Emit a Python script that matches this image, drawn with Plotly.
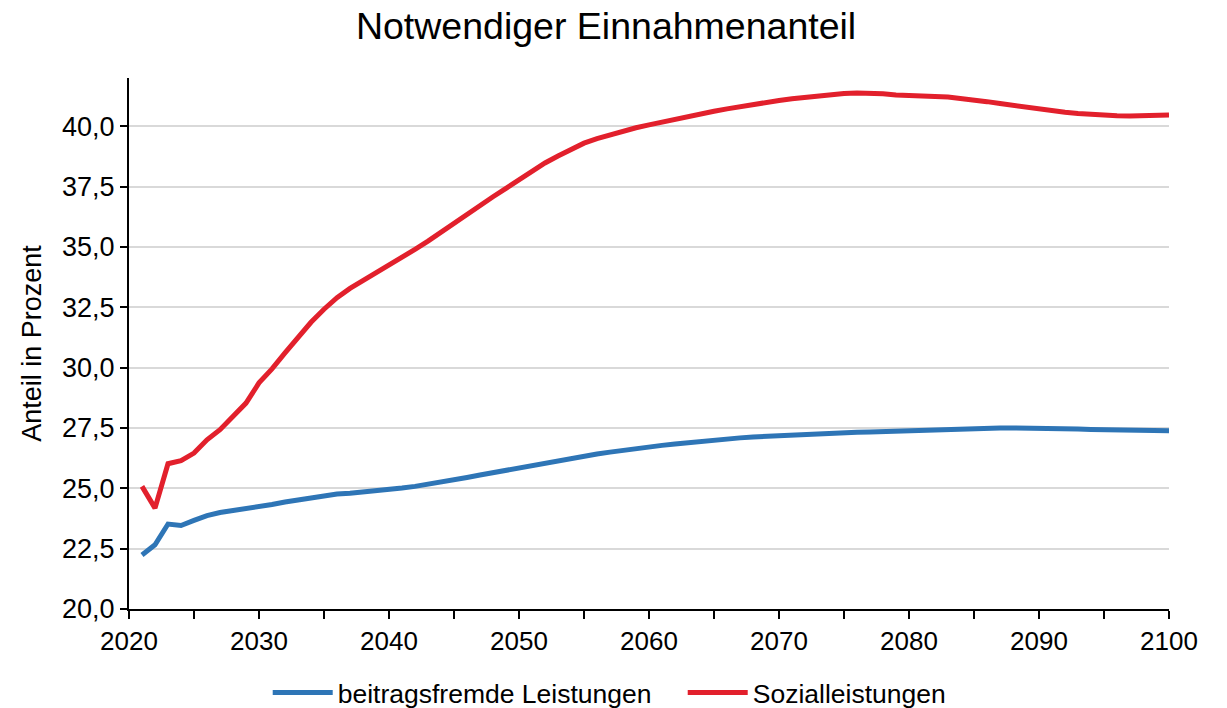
import plotly.graph_objects as go

years = list(range(2021, 2101))

beitragsfremde = [
    22.24, 22.66, 23.52, 23.46, 23.67, 23.87, 24.00, 24.07, 24.14, 24.25,
    24.33, 24.43, 24.52, 24.62, 24.69, 24.76, 24.80, 24.84, 24.88, 24.94,
    25.01, 25.08, 25.16, 25.25, 25.35, 25.45, 25.55, 25.65, 25.76, 25.86,
    25.96, 26.06, 26.15, 26.24, 26.33, 26.42, 26.50, 26.58, 26.65, 26.72,
    26.78, 26.84, 26.90, 26.95, 27.00, 27.05, 27.09, 27.13, 27.16, 27.19,
    27.22, 27.24, 27.26, 27.28, 27.30, 27.32, 27.33, 27.35, 27.36, 27.38,
    27.40, 27.43, 27.46, 27.48, 27.49, 27.50, 27.50, 27.50, 27.50, 27.49,
    27.48, 27.47, 27.46, 27.44, 27.43, 27.42, 27.41, 27.40, 27.39, 27.38,
]

sozial = [
    25.08, 24.18, 26.02, 26.15, 26.46, 27.01, 27.43, 27.95, 28.53, 29.37,
    29.95, 30.61, 31.27, 31.88, 32.42, 32.90, 33.28, 33.60, 33.91, 34.21,
    34.55, 34.90, 35.24, 35.62, 35.98, 36.35, 36.72, 37.08, 37.43, 37.80,
    38.17, 38.48, 38.77, 39.05, 39.30, 39.49, 39.65, 39.80, 39.94, 40.06,
    40.18, 40.29, 40.40, 40.51, 40.62, 40.72, 40.82, 40.91, 40.99, 41.07,
    41.14, 41.20, 41.26, 41.32, 41.36, 41.38, 41.38, 41.35, 41.30, 41.26,
    41.24, 41.23, 41.21, 41.16, 41.10, 41.02, 40.94, 40.86, 40.78, 40.70,
    40.63, 40.58, 40.53, 40.49, 40.46, 40.44, 40.43, 40.43, 40.44, 40.47,
]

names = ["beitragsfremde Leistungen", "Sozialleistungen"]
colors = ["#2E75B6", "#E2202C"]

FONT = "Liberation Sans, Arial, sans-serif"

fig = go.Figure()
for name, vals, col in zip(names, [beitragsfremde, sozial], colors):
    fig.add_trace(go.Scatter(x=years, y=vals, mode="lines", name=name,
                             line=dict(color=col, width=5)))

fig.update_layout(
    width=1219, height=700,
    paper_bgcolor="white", plot_bgcolor="white",
    separators=",.",
    font=dict(family=FONT, size=26, color="black"),
    title=dict(text="Notwendiger Einnahmenanteil", x=0.4906, xanchor="center",
               xref="container", yref="container",
               y=0.975, yanchor="middle",
               font=dict(family=FONT, size=37.5, color="black")),
    margin=dict(l=121, r=58, t=70, b=99, autoexpand=False),
    showlegend=True,
    legend=dict(orientation="h", xref="container", yref="paper",
                x=0.5535, xanchor="center", y=-0.158, yanchor="middle",
                font=dict(family=FONT, size=26.5, color="black"),
                itemwidth=60, entrywidth=340, tracegroupgap=0),
    xaxis=dict(range=[2020, 2100], tick0=2020, dtick=10, automargin=False,
               showline=True, linecolor="black", linewidth=2,
               ticks="outside", ticklen=8, tickwidth=2, tickcolor="black",
               showgrid=False, zeroline=False,
               minor=dict(dtick=5, ticks="outside", ticklen=8, tickwidth=2,
                          tickcolor="black", showgrid=False),
               tickfont=dict(family=FONT, size=26, color="black")),
    yaxis=dict(range=[20, 42], tick0=20, dtick=2.5, tickformat=".1f",
               automargin=False,
               showline=True, linecolor="black", linewidth=2,
               ticks="outside", ticklen=7, tickwidth=2, tickcolor="black",
               showgrid=True, gridcolor="#D9D9D9", gridwidth=2,
               zeroline=False,
               title=dict(text="Anteil in Prozent", standoff=13,
                          font=dict(family=FONT, size=27, color="black")),
               tickfont=dict(family=FONT, size=27, color="black")),
)

fig.write_html("out.html")
